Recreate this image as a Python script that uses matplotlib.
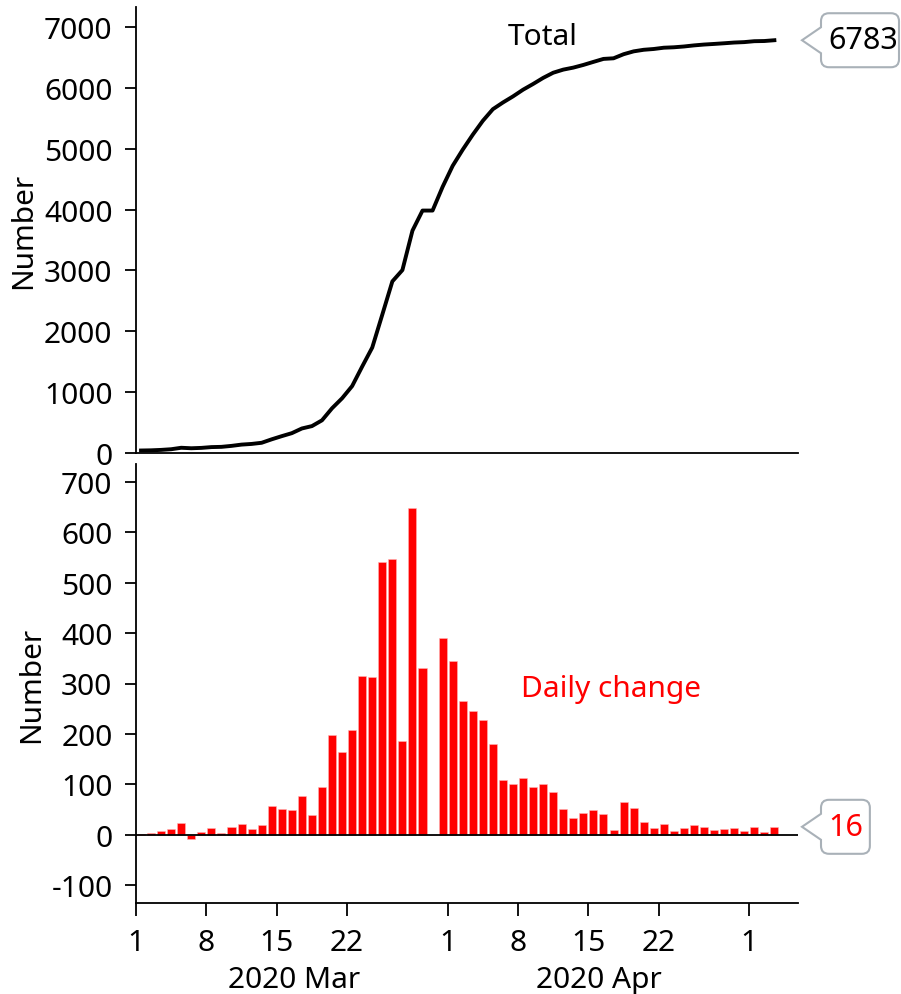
import numpy as np
import pandas as pd
import matplotlib
matplotlib.use("Agg")
import matplotlib.pyplot as plt
import matplotlib.dates as mdates
from matplotlib.path import Path
from matplotlib.patches import PathPatch
from matplotlib.transforms import IdentityTransform, blended_transform_factory

plt.rcParams['font.family'] = ['Noto Sans', 'DejaVu Sans']
plt.rcParams['axes.unicode_minus'] = False

# data (Mar 1 - May 3 2020)
dates = pd.date_range('2020-03-01', '2020-05-03')

total = [41, 44, 51, 62, 86, 78, 84, 97, 101, 117,
         138, 149, 168, 225, 277, 326, 403, 442, 537, 735,
         899, 1100, 1421, 1733, 2274, 2820, 3006, 3654, 3984, 3984,
         4374, 4719, 4985, 5231, 5459, 5650, 5760, 5860, 5970, 6064,
         6164, 6249, 6300, 6333, 6377, 6427, 6476, 6486, 6553, 6600,
         6626, 6639, 6660, 6667, 6680, 6698, 6712, 6722, 6733, 6745,
         6752, 6767, 6770, 6783]

daily = [1, 3, 7, 11, 24, -8, 6, 13, 4, 16,
         21, 11, 19, 57, 52, 49, 77, 39, 95, 198,
         164, 208, 314, 312, 541, 546, 186, 648, 330, 0,
         390, 345, 266, 246, 228, 180, 108, 100, 112, 95,
         100, 85, 51, 33, 44, 50, 41, 10, 65, 53,
         26, 13, 22, 7, 13, 20, 16, 10, 12, 13,
         8, 16, 5, 16]

tick_dates = ['2020-03-01', '2020-03-08', '2020-03-15', '2020-03-22',
              '2020-04-01', '2020-04-08', '2020-04-15', '2020-04-22',
              '2020-05-01']
tick_labels = ['1', '8', '15', '22', '1', '8', '15', '22', '1']
months = ['2020 Mar', '2020 Apr']
month_centers = [15.7, 46.0]  # days after Mar 1

FS = 21.5
W, H = 901, 995
fig = plt.figure(figsize=(W / 100, H / 100), dpi=100)
ax1 = fig.add_axes([136 / W, 1 - 454 / H, 662 / W, 446 / H])
ax2 = fig.add_axes([136 / W, 1 - 904 / H, 662 / W, 439 / H])

x0 = mdates.date2num(dates[0])
x = mdates.date2num(dates) + 0.5

# top panel: running total
ax1.plot(x, total, color='black', lw=2.8)
ax1.set_xlim(x0, x0 + 65.85)
ax1.set_ylim(0, 7329)
ax1.set_yticks(range(0, 7001, 1000))
ax1.set_xticks([])
for s in ['top', 'right']:
    ax1.spines[s].set_visible(False)
ax1.spines['left'].set_linewidth(1.3)
ax1.spines['bottom'].set_linewidth(1.3)
ax1.tick_params(axis='y', labelsize=FS, length=8, width=1.3, pad=9)
ax1.set_ylabel('Number', fontsize=FS)
ax1.yaxis.set_label_coords(-(136 - 38) / 662, 0.5)
ax1.text(x0 + 40.5, 6850, 'Total', ha='center', va='center', fontsize=FS)

# bottom panel: daily change
ax2.bar(x, daily, width=0.8, color='#ff0000', edgecolor='#ffb4b4', linewidth=0.4)
ax2.axhline(0, color='black', lw=1.3)
ax2.set_xlim(x0, x0 + 65.85)
ax2.set_ylim(-135, 735)
ax2.set_yticks(range(-100, 701, 100))
ax2.set_xticks(mdates.date2num(pd.to_datetime(tick_dates)))
ax2.set_xticklabels(tick_labels)
for s in ['top', 'right']:
    ax2.spines[s].set_visible(False)
ax2.spines['left'].set_linewidth(1.3)
ax2.spines['bottom'].set_linewidth(1.3)
ax2.tick_params(axis='y', labelsize=FS, length=8, width=1.3, pad=9)
ax2.tick_params(axis='x', labelsize=FS, length=9, width=1.3, pad=9)
ax2.set_ylabel('Number', fontsize=FS)
ax2.yaxis.set_label_coords(-(136 - 46) / 662, 0.5)
ax2.text(x0 + 47.2, 290, 'Daily change', ha='center', va='center',
         fontsize=FS, color='#ff0000')

trans = blended_transform_factory(ax2.transData, ax2.transAxes)
for m, c in zip(months, month_centers):
    ax2.text(x0 + c, -(981 - 904) / 439, m, transform=trans, ha='center',
             va='center', fontsize=FS)


def callout(ax, y, label, color):
    fig.canvas.draw()
    _, yc = ax.transData.transform((x0, y))
    right = ax.transAxes.transform((1, 0))[0]
    tip = right + 4
    L = tip + 19
    t = fig.text(L + 7, yc, label, transform=IdentityTransform(), ha='left',
                 va='center', fontsize=22, color=color, zorder=6)
    fig.canvas.draw()
    bb = t.get_window_extent()
    R = min(bb.x1 + 7, W - 2)
    T, B, r, n = yc + 27, yc - 27, 8, 13
    verts = [(L, yc - n), (L, B + r), (L, B), (L + r, B), (R - r, B), (R, B),
             (R, B + r), (R, T - r), (R, T), (R - r, T), (L + r, T), (L, T),
             (L, T - r), (L, yc + n), (tip, yc), (L, yc - n)]
    codes = [Path.MOVETO, Path.LINETO, Path.CURVE3, Path.CURVE3, Path.LINETO,
             Path.CURVE3, Path.CURVE3, Path.LINETO, Path.CURVE3, Path.CURVE3,
             Path.LINETO, Path.CURVE3, Path.CURVE3, Path.LINETO, Path.LINETO,
             Path.CLOSEPOLY]
    patch = PathPatch(Path(verts, codes), facecolor='white', edgecolor='#a9b1b8',
                      lw=1.5, transform=IdentityTransform(), zorder=5)
    fig.add_artist(patch)


callout(ax1, total[-1], str(total[-1]), 'black')
callout(ax2, daily[-1], str(daily[-1]), '#ff0000')

fig.savefig('out.png', dpi=100)
